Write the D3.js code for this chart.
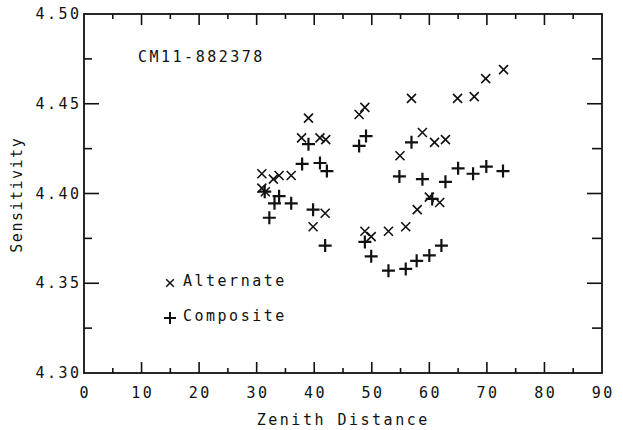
<!DOCTYPE html>
<html>
<head>
<meta charset="utf-8">
<script src="https://cdn.jsdelivr.net/npm/d3@7"></script>
<style>
  body { margin: 0; background: #fff; }
  text { font-family: "DejaVu Sans Mono", monospace; fill: #111; font-size: 15px; letter-spacing: 2.5px; }
</style>
</head>
<body>
<svg id="chart" width="623" height="430"></svg>
<script>
// Alternate series (x markers)
const altZenith = [30.9, 30.9, 31.5, 32.9, 33.9, 36.0, 37.8, 39.0, 41.0, 42.0, 39.8, 41.9, 47.8, 48.8, 48.8, 49.9, 52.9, 55.9, 54.9, 56.9, 57.9, 58.8, 60.0, 60.9, 61.8, 62.8, 64.9, 67.8, 69.8, 72.9];
const altSens   = [4.411, 4.403, 4.401, 4.408, 4.410, 4.410, 4.431, 4.442, 4.431, 4.430, 4.3815, 4.389, 4.444, 4.448, 4.379, 4.376, 4.379, 4.3815, 4.421, 4.453, 4.391, 4.434, 4.398, 4.4285, 4.395, 4.430, 4.453, 4.454, 4.464, 4.469];

// Composite series (+ markers)
const compZenith = [31.4, 32.2, 33.1, 33.9, 36.0, 37.9, 39.0, 39.8, 41.0, 42.2, 41.9, 47.8, 49.0, 48.8, 49.9, 52.9, 54.8, 55.9, 56.9, 57.8, 58.8, 60.0, 60.5, 62.1, 62.8, 65.0, 67.6, 69.9, 72.8];
const compSens   = [4.401, 4.3865, 4.3945, 4.3985, 4.3945, 4.4165, 4.4275, 4.391, 4.417, 4.4125, 4.371, 4.4265, 4.432, 4.373, 4.365, 4.357, 4.4095, 4.358, 4.4285, 4.3625, 4.408, 4.3655, 4.397, 4.371, 4.4065, 4.414, 4.411, 4.415, 4.4125];

const xTicks = [0, 10, 20, 30, 40, 50, 60, 70, 80, 90];
const yTicks = [4.30, 4.35, 4.40, 4.45, 4.50];

const svg = d3.select("#chart");
const mLeft = 84, mRight = 602, mTop = 14, mBottom = 373;
const ls = 2.5; // letter-spacing, trailing gap to compensate

const x = d3.scaleLinear().domain([0, 90]).range([mLeft, mRight]);
const y = d3.scaleLinear().domain([4.30, 4.50]).range([mBottom, mTop]);

const ink = "#111";

// frame
svg.append("rect")
  .attr("x", mLeft).attr("y", mTop)
  .attr("width", mRight - mLeft).attr("height", mBottom - mTop)
  .attr("fill", "none").attr("stroke", ink).attr("stroke-width", 1.8);

// x ticks (bottom + top, pointing inward)
const xMinor = d3.range(5, 90, 10);
const tickG = svg.append("g").attr("stroke", ink).attr("stroke-width", 1.6);
xTicks.slice(1, -1).forEach(v => {
  tickG.append("line").attr("x1", x(v)).attr("x2", x(v)).attr("y1", mBottom).attr("y2", mBottom - 11);
  tickG.append("line").attr("x1", x(v)).attr("x2", x(v)).attr("y1", mTop).attr("y2", mTop + 11);
});
xMinor.forEach(v => {
  tickG.append("line").attr("x1", x(v)).attr("x2", x(v)).attr("y1", mBottom).attr("y2", mBottom - 5);
  tickG.append("line").attr("x1", x(v)).attr("x2", x(v)).attr("y1", mTop).attr("y2", mTop + 5);
});

// y ticks (left + right, pointing inward)
const yMinor = [4.325, 4.375, 4.425, 4.475];
yTicks.slice(1, -1).forEach(v => {
  tickG.append("line").attr("x1", mLeft).attr("x2", mLeft + 15).attr("y1", y(v)).attr("y2", y(v));
  tickG.append("line").attr("x1", mRight).attr("x2", mRight - 15).attr("y1", y(v)).attr("y2", y(v));
});
yMinor.forEach(v => {
  tickG.append("line").attr("x1", mLeft).attr("x2", mLeft + 8).attr("y1", y(v)).attr("y2", y(v));
  tickG.append("line").attr("x1", mRight).attr("x2", mRight - 10).attr("y1", y(v)).attr("y2", y(v));
});

// tick labels
svg.append("g").selectAll("text").data(xTicks).join("text")
  .attr("x", d => x(d) + ls / 2).attr("y", 398)
  .attr("text-anchor", "middle")
  .text(d => d);

svg.append("g").selectAll("text").data(yTicks).join("text")
  .attr("x", 79 + ls).attr("y", d => y(d) + 5)
  .attr("text-anchor", "end")
  .text(d => d.toFixed(2));

// axis titles
svg.append("text")
  .attr("x", 342 + ls / 2).attr("y", 425)
  .attr("text-anchor", "middle")
  .text("Zenith Distance");

svg.append("text")
  .attr("transform", `translate(22,${(mTop + mBottom) / 2 + ls / 2}) rotate(-90)`)
  .attr("text-anchor", "middle")
  .style("letter-spacing", "1.5px")
  .text("Sensitivity");

svg.append("text")
  .attr("x", 138).attr("y", 62)
  .text("CM11-882378");

// markers
const cross = (g, cx, cy, r) => {
  g.append("path").attr("d", `M${cx - r},${cy - r}L${cx + r},${cy + r}M${cx - r},${cy + r}L${cx + r},${cy - r}`);
};
const plus = (g, cx, cy, r) => {
  g.append("path").attr("d", `M${cx - r},${cy}L${cx + r},${cy}M${cx},${cy - r}L${cx},${cy + r}`);
};

const altG = svg.append("g").attr("stroke", ink).attr("stroke-width", 1.6).attr("fill", "none");
altZenith.forEach((z, i) => cross(altG, x(z), y(altSens[i]), 4.5));

const compG = svg.append("g").attr("stroke", ink).attr("stroke-width", 2.2).attr("fill", "none");
compZenith.forEach((z, i) => plus(compG, x(z), y(compSens[i]), 6.5));

// legend
const legG = svg.append("g").attr("stroke", ink).attr("fill", "none");
cross(legG.append("g").attr("stroke-width", 1.5), 170, 283, 3.8);
plus(legG.append("g").attr("stroke-width", 2), 170, 318, 6);
svg.append("text").attr("x", 183).attr("y", 286).text("Alternate");
svg.append("text").attr("x", 183).attr("y", 321).text("Composite");
</script>
</body>
</html>
